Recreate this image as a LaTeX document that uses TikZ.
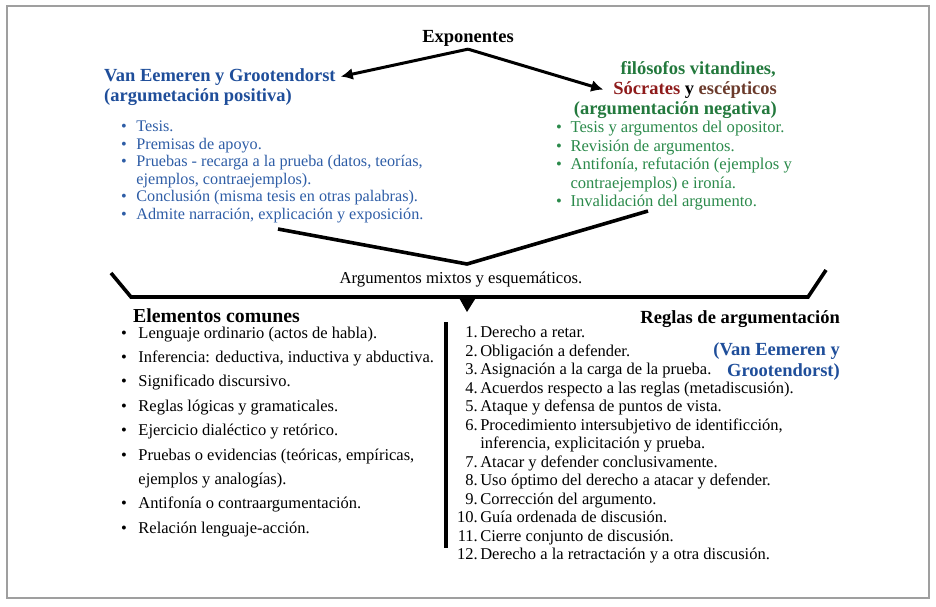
\documentclass[tikz,border=0pt]{standalone}
\usepackage{fontspec}
\setmainfont{Liberation Serif}
\usetikzlibrary{arrows.meta}
\usetikzlibrary{positioning}

\definecolor{vanblue}{HTML}{1F4E9A}
\definecolor{listblue}{HTML}{2E5DA6}
\definecolor{negreen}{HTML}{23793D}
\definecolor{listgreen}{HTML}{2B8A4B}
\definecolor{socred}{HTML}{8E1B1B}
\definecolor{escbrown}{HTML}{6B3B2C}

\newcommand{\bul}{\textbullet}

\tikzset{head/.style={inner sep=0pt, font={\fontsize{18.5}{21}\selectfont\bfseries}}}
\tikzset{toplist/.style={anchor=base west, inner sep=0pt, font={\fontsize{16.2}{17.6}\selectfont}}}
\tikzset{connect/.style={draw, line width=3pt, -{Latex[length=12pt,width=12pt]}}}
\tikzset{bar/.style={draw, line width=3.6pt, line join=miter}}

\begin{document}
\begin{tikzpicture}[x=1pt,y=-1pt]
\useasboundingbox (0,0) rectangle (936,606);
\draw[gray!75, line width=1.5pt] (7,6) rectangle (929,598);

%exponentes
\node[head, anchor=base] (expo) at (468,42) {Exponentes};

%positive side
\node[head, anchor=base west, text=vanblue] (vanhead) at (104,81) {Van Eemeren y Grootendorst};
\node[head, anchor=base west, text=vanblue] (vanpos) at (104,101) {(argumetación positiva)};
\node[toplist, text=listblue] (poslist) at (121,131.5) {\begin{tabular}[t]{@{}l@{\hspace{9.5pt}}l@{}}
\bul & Tesis.\\
\bul & Premisas de apoyo.\\
\bul & Pruebas - recarga a la prueba (datos, teorías,\\
 & ejemplos, contraejemplos).\\
\bul & Conclusión (misma tesis en otras palabras).\\
\bul & Admite narración, explicación y exposición.\\
\end{tabular}};

%negative side
\node[head, anchor=base east, text=negreen] (filo) at (776,74) {filósofos vitandines,};
\node[head, anchor=base east] (socr) at (777,94) {\textcolor{socred}{Sócrates} y \textcolor{escbrown}{escépticos}};
\node[head, anchor=base east, text=negreen] (negat) at (777,114) {(argumentación negativa)};
\node[toplist, text=listgreen, font={\fontsize{16.6}{18.5}\selectfont}] (neglist) at (556,132.5) {\begin{tabular}[t]{@{}l@{\hspace{8.5pt}}l@{}}
\bul & Tesis y argumentos del opositor.\\
\bul & Revisión de argumentos.\\
\bul & Antifonía, refutación (ejemplos y\\
 & contraejemplos) e ironía.\\
\bul & Invalidación del argumento.\\
\end{tabular}};

\path[connect] ([yshift=-3pt]expo.south) -- ([xshift=5pt]vanhead.east);
\path[connect] ([yshift=-3pt]expo.south) -- ([xshift=-10pt]socr.west);

%funnel to mixed arguments
\coordinate (funL) at (278,229);
\coordinate (funV) at (467,264);
\coordinate (funR) at (648,211);
\path[bar] (funL) -- (funV) -- (funR);
\node[inner sep=0pt, anchor=base, font={\fontsize{16.7}{18}\selectfont}] (mixtos) at (461,283) {Argumentos mixtos y esquemáticos.};

%bracket
\path[bar] (111,273) -- (131,297) -- (808,297) -- (826,270);
\fill (458,296) -- (477,296) -- (467,312) -- cycle;

%common elements
\node[head, anchor=base west, font={\fontsize{19.8}{21}\selectfont\bfseries}] (comunes) at (133,322) {Elementos comunes};
\node[toplist, font={\fontsize{16.5}{18}\selectfont}] (comlist) at (121,338) {\begin{tabular}[t]{@{}l@{\hspace{11.5pt}}l@{}}
\bul & Lenguaje ordinario (actos de habla).\\[6.4pt]
\bul & Inferencia: deductiva, inductiva y abductiva.\\[6.4pt]
\bul & Significado discursivo.\\[6.4pt]
\bul & Reglas lógicas y gramaticales.\\[6.4pt]
\bul & Ejercicio dialéctico y retórico.\\[6.4pt]
\bul & Pruebas o evidencias (teóricas, empíricas,\\[6.4pt]
 & ejemplos y analogías).\\[6.4pt]
\bul & Antifonía o contraargumentación.\\[6.4pt]
\bul & Relación lenguaje-acción.\\
\end{tabular}};

\path[draw, line width=4pt] (446,322) -- (446,548);

%rules
\node[head, anchor=base east] (reglas) at (840,323) {Reglas de argumentación};
\node[head, anchor=base east, text=vanblue] (reglasvan) at (840,355) {\begin{tabular}[t]{@{}r@{}}
(Van Eemeren y\\
Grootendorst)\\
\end{tabular}};
\node[toplist, font={\fontsize{16.5}{18.5}\selectfont}] (reglist) at (457,337.5) {\begin{tabular}[t]{@{}r@{\hspace{2.5pt}}l@{}}
1. & Derecho a retar.\\
2. & Obligación a defender.\\
3. & Asignación a la carga de la prueba.\\
4. & Acuerdos respecto a las reglas (metadiscusión).\\
5. & Ataque y defensa de puntos de vista.\\
6. & Procedimiento intersubjetivo de identificción,\\
 & inferencia, explicitación y prueba.\\
7. & Atacar y defender conclusivamente.\\
8. & Uso óptimo del derecho a atacar y defender.\\
9. & Corrección del argumento.\\
10. & Guía ordenada de discusión.\\
11. & Cierre conjunto de discusión.\\
12. & Derecho a la retractación y a otra discusión.\\
\end{tabular}};

\end{tikzpicture}
\end{document}
